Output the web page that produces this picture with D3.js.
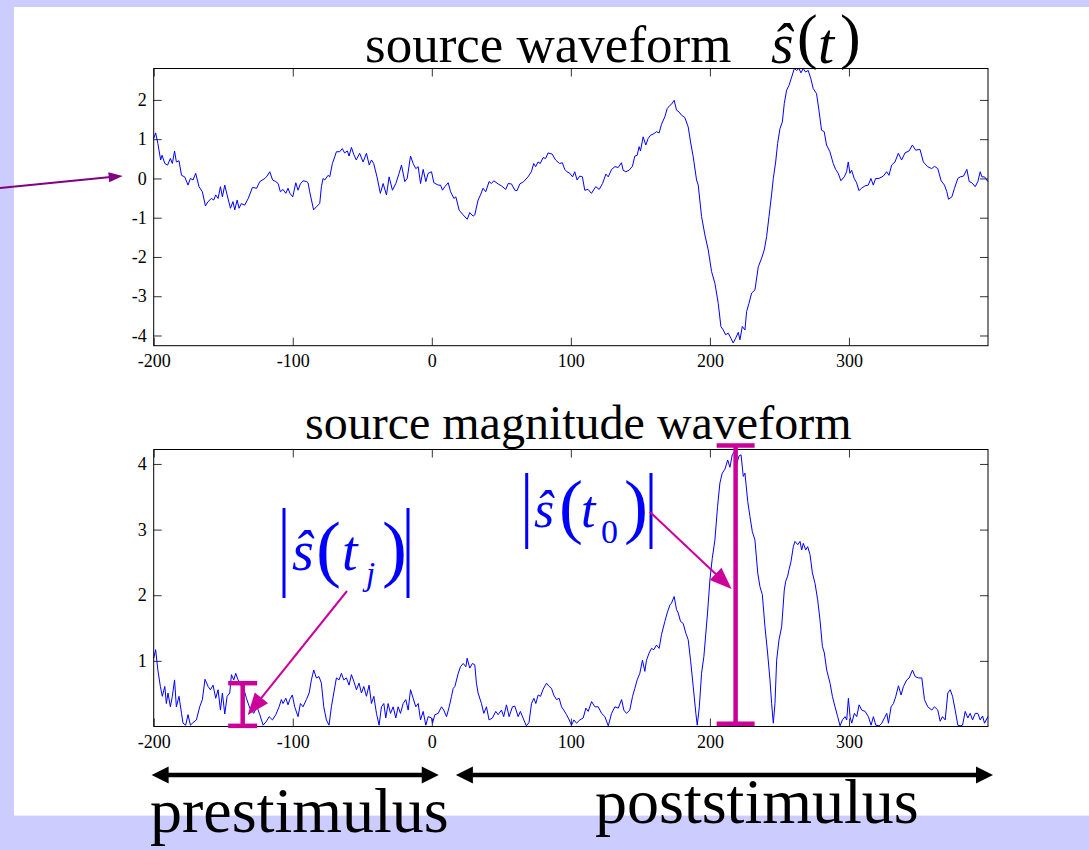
<!DOCTYPE html>
<html><head><meta charset="utf-8">
<script src="https://cdn.jsdelivr.net/npm/d3@7"></script>
<style>html,body{margin:0;padding:0;background:#CCCCFF;}svg{display:block}</style>
</head><body>
<svg id="c" width="1089" height="850"></svg>
<script>
// ---------------- data ----------------
const xTicks = [-200, -100, 0, 100, 200, 300];
const sourceYTicks = [-4, -3, -2, -1, 0, 1, 2];
const magYTicks = [1, 2, 3, 4];
const xDomain = [-200, 400];
const sourceYDomain = [-4.26, 2.80];
const magYDomain = [0, 4.22];

// source waveform s^(t): [time, value]
const sourceWave = [
[-200,1.02],[-198.6,1.16],[-197,0.89],[-195,0.47],[-194,0.59],[-192,0.38],[-190,0.34],[-188,0.51],[-186.6,0.38],[-185,0.70],
[-183.7,0.42],[-181.8,0.45],[-180,0.08],[-177.7,0.04],[-175.3,-0.17],[-173.6,0],[-171.7,-0.04],[-169.8,0.13],[-167.4,-0.21],[-165,-0.34],
[-162.8,-0.70],[-160.9,-0.59],[-158.5,-0.51],[-156.8,-0.55],[-155.4,-0.42],[-153.7,-0.51],[-152,-0.21],[-150.6,-0.47],[-148.9,-0.17],[-147.2,-0.42],
[-144.8,-0.76],[-143,-0.59],[-141.7,-0.80],[-140,-0.55],[-138.6,-0.76],[-137,-0.64],[-134.6,-0.68],[-132,-0.51],[-129,-0.23],[-126,-0.25],
[-123.7,-0.08],[-120,0],[-118.5,0.06],[-116.5,0.17],[-114.5,-0.04],[-112.2,-0.08],[-110.5,-0.13],[-108.9,-0.34],[-107,-0.28],[-105,-0.38],
[-103.4,-0.25],[-102,-0.38],[-100,-0.47],[-97.8,-0.11],[-96.2,-0.30],[-94.5,-0.14],[-92.6,-0.06],[-90,-0.08],[-89,-0.11],[-87.8,-0.34],
[-85,-0.80],[-83,-0.72],[-80.6,-0.64],[-79.4,-0.21],[-78.2,0],[-77,-0.04],[-74.6,0.08],[-73.4,0.04],[-71.5,0.38],[-69.8,0.55],
[-68.6,0.68],[-66.2,0.68],[-64.4,0.76],[-62.7,0.65],[-60.7,0.70],[-59.5,0.57],[-57.8,0.79],[-56.2,0.62],[-54.3,0.47],[-51.9,0.64],
[-49.4,0.42],[-47,0.64],[-45,0.34],[-43.4,0.47],[-41.8,0.38],[-39.4,0.04],[-37,-0.38],[-35,-0.13],[-32.6,-0.42],[-30.7,0.04],
[-28.3,-0.30],[-25.9,-0.13],[-23.5,0.13],[-21.8,0.34],[-19.4,-0.08],[-17.7,0],[-15.3,0.57],[-13.4,0.38],[-11.5,0.25],[-9.8,0.30],
[-8.1,-0.13],[-6.2,0.23],[-4.3,-0.08],[-2.6,0.13],[-0.2,0.17],[1.5,-0.11],[4.6,-0.17],[6.3,-0.17],[7.7,-0.30],[9.4,-0.21],
[11.8,-0.11],[13.5,-0.34],[15.9,-0.51],[17.3,-0.47],[19.7,-0.81],[22.6,-0.93],[25.5,-1.04],[27.3,-0.87],[29.7,-0.96],[30.9,-0.93],
[33.3,-0.55],[35,-0.42],[36.9,-0.25],[38.8,-0.34],[41.2,-0.08],[42.9,-0.13],[44.6,-0.06],[47.7,-0.14],[50.1,-0.19],[53.2,-0.28],
[54.9,-0.13],[57.3,-0.14],[59.7,-0.30],[61.3,-0.31],[63.3,-0.14],[66.1,-0.08],[69.2,0.04],[71.6,0.17],[73.3,0.38],[74.7,0.30],
[76.4,0.42],[78,0.38],[80,0.53],[81.9,0.51],[83.6,0.65],[86.6,0.62],[89,0.47],[91.9,0.38],[93.9,0.40],[95.6,0.23],
[97.2,0.17],[99.3,0.13],[101.2,0.04],[102.8,0.17],[104.5,-0.04],[106.4,0.06],[108.3,0.04],[110,-0.30],[112.4,-0.28],[114.8,-0.38],
[117.9,-0.21],[120.4,-0.28],[122.8,-0.13],[125.2,0.11],[126.9,0.04],[129.3,0.23],[131.7,0.30],[134.1,0.28],[136.4,0.40],[137.6,0.21],
[139.5,0.17],[141.9,0.21],[144.3,0.31],[146,0.57],[147.7,0.59],[149.1,0.81],[150.1,0.70],[152,1.06],[153.9,0.85],[155.6,1.02],
[157.3,1.10],[159.7,1.14],[161.6,1.19],[163.5,1.16],[165.2,1.38],[167.6,1.57],[169.3,1.78],[171.2,1.86],[172.4,1.89],[174.3,1.99],
[176,1.74],[177.9,1.69],[179.6,1.61],[182,1.55],[184.4,1.31],[186.1,0.93],[188,0.55],[190.4,-0.04],[191.6,-0.17],[194,-0.97],
[196.4,-1.44],[198.8,-1.82],[201.2,-2.37],[203.6,-2.67],[206,-3.18],[207.9,-3.77],[209.6,-3.86],[211.3,-3.98],[213.2,-3.94],[215.1,-4.07],
[216.8,-4.19],[218.5,-4.07],[220.4,-3.92],[221.6,-4.11],[223.3,-3.77],[225.2,-3.86],[226.4,-3.39],[228.1,-3.18],[230,-2.92],[232.4,-2.84],
[234.8,-2.25],[237.2,-2.03],[239.1,-1.82],[240.8,-1.48],[242.5,-0.97],[244.4,-0.40],[245.6,0.0],[247.3,0.42],[248.7,0.89],[250.4,1.27],
[252.1,1.44],[253.5,1.91],[255.2,2.25],[256.9,2.37],[258.8,2.58],[260.7,2.80],[262.4,2.75],[264,2.80],[265.5,2.69],[267.1,2.80],
[268.8,2.71],[270.7,2.75],[272.6,2.54],[274.3,2.29],[276.7,2.16],[278.4,1.74],[280.3,1.23],[282.2,1.19],[283.9,0.85],[286.3,0.68],
[288.7,0.38],[290.4,0.23],[292.3,0.13],[294.2,-0.06],[296.6,0.04],[298.3,0.17],[299.5,0.42],[300.7,0.13],[301.9,0.21],[303.8,0],
[305.5,-0.11],[307.2,-0.31],[309.1,-0.25],[311.5,-0.19],[313.9,-0.17],[315.8,0],[317.5,-0.17],[319.2,0],[321.6,0],[324.7,0.06],
[327.1,0.17],[328.8,0.08],[330.7,0.34],[333.1,0.42],[335.5,0.64],[337.9,0.47],[340.3,0.65],[343.2,0.70],[345.6,0.85],[348,0.72],
[351.1,0.74],[353.5,0.42],[356.6,0.30],[359.5,0.25],[361.5,0.31],[363.9,0.25],[366.3,-0.06],[368.7,-0.17],[370.4,-0.34],[371.6,-0.53],
[374,-0.47],[375.9,-0.25],[378.3,0],[380,0.04],[382.4,0.06],[384.8,0.23],[386.5,-0.08],[388.4,-0.11],[390.8,-0.21],[392.7,-0.08],
[394.4,0.17],[395.6,0.04],[397.5,0.04],[399.9,-0.08]
];

// source magnitude waveform |s^(t)|: [time, value]
const magnitudeWave = [
[-200,1.04],[-198.6,1.17],[-197,0.86],[-195.2,0.61],[-193.8,0.46],[-192,0.61],[-190.9,0.35],[-189.7,0.51],[-188,0.30],[-186.6,0.46],
[-185,0.71],[-183.7,0.30],[-181.8,0.46],[-180,0.20],[-178.9,0.05],[-177,0.02],[-175.3,0.18],[-173.6,0.02],[-171.7,0.06],[-169.3,0.10],
[-166.9,0.30],[-165,0.41],[-163.1,0.72],[-160.9,0.61],[-159.2,0.56],[-157.3,0.63],[-155.4,0.43],[-153.7,0.56],[-152,0.25],[-150.6,0.51],
[-148.9,0.19],[-147.2,0.46],[-145.3,0.51],[-144.1,0.79],[-142.4,0.71],[-141,0.81],[-139.3,0.71],[-137.6,0.63],[-135.7,0.61],[-133.3,0.43],
[-130.9,0.28],[-128.1,0.20],[-125.7,0.30],[-123.7,0.18],[-121.3,0.02],[-118.9,0.08],[-117,0.15],[-114.6,0.10],[-112.2,0.18],[-109.8,0.30],
[-108.2,0.41],[-107,0.35],[-105,0.43],[-103.4,0.33],[-102.2,0.41],[-100.3,0.48],[-98.6,0.30],[-96.2,0.15],[-94.5,0.35],[-92.6,0.30],
[-90.2,0.41],[-88.2,0.51],[-86.6,0.71],[-84.9,0.86],[-83,0.74],[-81.1,0.76],[-79.4,0.66],[-77.7,0.30],[-75.8,0.10],[-73.9,0.02],
[-72.2,0.30],[-70.5,0.51],[-68.6,0.74],[-66.7,0.71],[-65,0.81],[-63.3,0.71],[-61.4,0.74],[-59.5,0.63],[-57.8,0.79],[-56.1,0.69],
[-54.2,0.56],[-52.3,0.66],[-50.6,0.51],[-48.9,0.61],[-47,0.46],[-45.1,0.63],[-43.4,0.35],[-41.7,0.46],[-39.8,0.20],[-37.9,0.02],
[-36.2,0.30],[-34.5,0.35],[-33.1,0.13],[-31.4,0.35],[-29.7,0.20],[-27.8,0.30],[-25.9,0.13],[-24.2,0.30],[-22.5,0.20],[-20.6,0.35],
[-18.7,0.41],[-17,0.25],[-15.3,0.56],[-13.4,0.43],[-11.5,0.30],[-9.8,0.35],[-8.1,0.10],[-6.2,0.23],[-4.3,0.02],[-2.6,0.15],
[-0.2,0.13],[0.5,0.05],[2.2,0.18],[4.6,0.20],[7,0.30],[8.6,0.25],[10.6,0.15],[12.5,0.30],[14.2,0.46],[15.4,0.58],
[16.6,0.61],[19,0.81],[20.6,0.91],[22.6,0.96],[24.5,0.91],[25.4,1.04],[27.3,0.89],[29.2,0.96],[30.9,0.94],[32.1,0.66],
[33.3,0.51],[35.7,0.35],[37.4,0.20],[39.3,0.30],[41.2,0.10],[43.6,0.13],[46,0.23],[47.7,0.18],[50.1,0.25],[51.7,0.15],
[53.7,0.33],[55.6,0.15],[58,0.30],[59.7,0.31],[62.1,0.15],[63.7,0.23],[65.6,0.13],[68,0.01],[69.9,0.06],[71.7,0.35],
[73.4,0.43],[74.8,0.35],[76.5,0.48],[78.2,0.46],[80.1,0.57],[82.5,0.66],[84.4,0.61],[86.1,0.58],[87.7,0.48],[89.7,0.41],
[91.6,0.43],[93.3,0.30],[94.9,0.25],[96.9,0.18],[98.8,0.10],[100.5,0.02],[102.2,0.10],[104.1,0.05],[106.5,0.10],[108.9,0.13],
[110.8,0.28],[112.5,0.23],[114.9,0.38],[117.3,0.30],[119.7,0.30],[122.1,0.20],[124.5,0.15],[126.9,0.01],[129.3,0.20],[131.7,0.30],
[134.1,0.28],[136.5,0.41],[138.1,0.25],[140,0.20],[142.4,0.25],[144.4,0.46],[146,0.58],[147.7,0.71],[149.6,0.81],[151.5,1.01],
[153.2,0.84],[154.4,1.01],[156.3,1.12],[158,1.19],[159.7,1.17],[161.6,1.24],[163.5,1.19],[165.2,1.40],[167.6,1.60],[169.3,1.73],
[171.2,1.85],[172.4,1.88],[174.3,1.98],[176,1.78],[177.2,1.73],[178.9,1.60],[180.8,1.57],[182.7,1.42],[184.4,1.32],[186.1,1.01],
[188,0.61],[189.9,0.20],[190.9,0.02],[192.4,0.30],[194,0.81],[195.7,1.07],[198.3,1.73],[200,2.23],[201.7,2.56],[203.6,2.84],
[205.5,3.35],[207.2,3.71],[208.9,3.86],[210.8,3.92],[212.8,4.06],[214.4,3.95],[216.1,4.14],[217.6,4.19],[219.2,3.99],[220.9,4.12],
[222.4,4.14],[224,3.81],[225.2,3.86],[227.2,3.43],[228.8,3.20],[230.5,2.97],[232.4,2.84],[234.4,2.34],[236,2.13],[237.7,2.01],
[239.6,1.52],[241.5,1.12],[243.2,0.71],[244.4,0.35],[245.6,0.05],[246.8,0.35],[248,1.01],[249.7,1.32],[251.6,1.52],[253.5,2.08],
[254.5,2.21],[255.9,2.29],[256.9,2.39],[258.3,2.51],[260,2.74],[261.2,2.82],[263.2,2.77],[264.8,2.82],[266,2.69],[267.2,2.79],
[268.9,2.69],[270.3,2.74],[272,2.62],[273.7,2.34],[275.6,2.18],[277.5,1.93],[279.2,1.62],[280.9,1.22],[282.3,1.12],[284,0.86],
[286.4,0.66],[288.1,0.46],[290,0.30],[291.9,0.15],[293.6,0.01],[295.3,0.10],[297.2,0.15],[298.4,0.10],[299.6,0.43],[300.8,0.15],
[302,0.05],[303.9,0.20],[305.6,0.15],[307.3,0.33],[309.2,0.25],[311.6,0.23],[314,0.15],[315.9,0.02],[317.6,0.15],[319.3,0.02],
[321.7,0.01],[323.6,0.05],[325.5,0.13],[327.2,0.20],[328.4,0.05],[330.3,0.30],[332,0.35],[333.7,0.46],[335.6,0.62],[337.5,0.48],
[339.2,0.61],[341.6,0.71],[343.3,0.74],[345.7,0.86],[347.6,0.76],[350,0.74],[352.4,0.74],[354.3,0.41],[356.7,0.30],[359.6,0.25],
[361.5,0.30],[363.9,0.25],[365.6,0.08],[367.3,0.15],[369.2,0.10],[371.1,0.51],[372.8,0.56],[374.5,0.46],[376.4,0.25],[378.3,0.02],
[380,0.01],[381.7,0.02],[383.6,0.23],[385.5,0.13],[387.2,0.20],[388.9,0.10],[390.8,0.20],[392.7,0.20],[394.4,0.10],[396.1,0.16],
[397.5,0.05],[399.9,0.15]
];

// magnitude markers (I-bars) at t_j and t_0: time, low, high
const markerTimes = [-136, 218.5];
const markerLow = [0.01, 0.04];
const markerHigh = [0.66, 4.28];

// time ranges of the prestimulus / poststimulus arrows
const periodStarts = [-201.5, 17.3];
const periodEnds = [5, 403.6];
const periodLabels = ["prestimulus", "poststimulus"];

// ---------------- drawing ----------------
const svg = d3.select("#c");
const SERIF = "'Liberation Serif','Times New Roman',Times,serif";
const BLUE = "#0000FF", MAGENTA = "#CC0099", PURPLE = "#800080";

svg.append("rect").attr("x", 0).attr("y", 0).attr("width", 1089).attr("height", 850).attr("fill", "#CCCCFF");
svg.append("rect").attr("x", 14).attr("y", 7).attr("width", 1075).attr("height", 808.6).attr("fill", "#FFFFFF");

const L = 153.7, R = 988;
const x = d3.scaleLinear().domain(xDomain).range([L, R]);
const ySrc = d3.scaleLinear().domain(sourceYDomain).range([345.7, 68.5]);
const yMag = d3.scaleLinear().domain(magYDomain).range([726.5, 449.5]);

function panel(yScale, yTicks, data) {
  const top = yScale.range()[1], bot = yScale.range()[0];
  const g = svg.append("g");
  const fmt = d => d3.format("d")(d).replace("\u2212", "-");
  const gx = g.append("g").attr("transform", `translate(0,${bot})`)
    .call(d3.axisBottom(x).tickValues(xTicks).tickSize(-8).tickSizeOuter(0).tickPadding(9).tickFormat(fmt));
  const gxt = g.append("g").attr("transform", `translate(0,${top})`)
    .call(d3.axisTop(x).tickValues(xTicks).tickSize(-8).tickSizeOuter(0).tickFormat(""));
  const gy = g.append("g").attr("transform", `translate(${L},0)`)
    .call(d3.axisLeft(yScale).tickValues(yTicks).tickSize(-8).tickSizeOuter(0).tickPadding(7).tickFormat(fmt));
  const gyr = g.append("g").attr("transform", `translate(${R},0)`)
    .call(d3.axisRight(yScale).tickValues(yTicks).tickSize(-8).tickSizeOuter(0).tickFormat(""));
  [gx, gxt, gy, gyr].forEach(a => {
    a.select(".domain").remove();
    a.selectAll(".tick line").attr("stroke", "#333").attr("stroke-width", 1);
    a.selectAll("text").attr("font-family", SERIF).attr("font-size", 18).attr("fill", "#000");
  });
  g.append("path").datum(data)
    .attr("fill", "none").attr("stroke", BLUE).attr("stroke-width", 1)
    .attr("d", d3.line().x(d => x(d[0])).y(d => yScale(d[1])));
  g.append("rect").attr("x", L).attr("y", top).attr("width", R - L).attr("height", bot - top)
    .attr("fill", "none").attr("stroke", "#000").attr("stroke-width", 1);
}
panel(ySrc, sourceYTicks, sourceWave);
panel(yMag, magYTicks, magnitudeWave);

function arrow(x1, y1, x2, y2, color, w, hl, hw) {
  const dx = x2 - x1, dy = y2 - y1, len = Math.hypot(dx, dy), ux = dx / len, uy = dy / len;
  const bx = x2 - ux * hl, by = y2 - uy * hl;
  svg.append("line").attr("x1", x1).attr("y1", y1).attr("x2", bx + ux * 2).attr("y2", by + uy * 2)
    .attr("stroke", color).attr("stroke-width", w);
  svg.append("polygon").attr("fill", color)
    .attr("points", [[x2, y2], [bx - uy * hw / 2, by + ux * hw / 2], [bx + uy * hw / 2, by - ux * hw / 2]].map(p => p.join(",")).join(" "));
}
function doubleArrow(x1, x2, y, color, w, hl, hw) {
  svg.append("line").attr("x1", x1 + hl - 1).attr("x2", x2 - hl + 1).attr("y1", y).attr("y2", y)
    .attr("stroke", color).attr("stroke-width", w);
  svg.append("polygon").attr("fill", color).attr("points", `${x1},${y} ${x1 + hl},${y - hw / 2} ${x1 + hl},${y + hw / 2}`);
  svg.append("polygon").attr("fill", color).attr("points", `${x2},${y} ${x2 - hl},${y - hw / 2} ${x2 - hl},${y + hw / 2}`);
}

// titles
function txt(s, px, py, size, opts = {}) {
  const t = svg.append("text").attr("x", px).attr("y", py).attr("font-family", SERIF)
    .attr("font-size", size).attr("fill", opts.fill || "#000").text(s);
  if (opts.italic) t.attr("font-style", "italic");
  return t;
}
txt("source waveform", 365, 62, 53);
txt("\u015D", 771, 63, 58, {italic: true});
txt("(", 797, 57, 62);
txt("t", 818, 63, 58, {italic: true});
txt(")", 840, 57, 62);
txt("source magnitude waveform", 305, 439, 48);

// purple arrow pointing at zero level of upper panel
arrow(0, 188, x(-200) - 31, ySrc(0) - 2.5, PURPLE, 2, 14, 10);

// magnitude markers
markerTimes.forEach((t, i) => {
  const cx = x(t), half = i === 0 ? 14.5 : 19;
  const yl = yMag(markerLow[i]), yh = yMag(markerHigh[i]);
  svg.append("line").attr("x1", cx).attr("x2", cx).attr("y1", yl).attr("y2", yh).attr("stroke", MAGENTA).attr("stroke-width", 4.5);
  svg.append("line").attr("x1", cx - half).attr("x2", cx + half).attr("y1", yl).attr("y2", yl).attr("stroke", MAGENTA).attr("stroke-width", 4.5);
  svg.append("line").attr("x1", cx - half).attr("x2", cx + half).attr("y1", yh).attr("y2", yh).attr("stroke", MAGENTA).attr("stroke-width", 4.5);
});

// |s^(t_j)| label
function bar(px, y1, y2) {
  svg.append("line").attr("x1", px).attr("x2", px).attr("y1", y1).attr("y2", y2).attr("stroke", BLUE).attr("stroke-width", 3);
}
bar(284, 508, 598); bar(408, 508, 598);
txt("\u015D", 292, 570, 56, {italic: true, fill: BLUE});
txt("(", 316, 573, 75, {fill: BLUE});
txt("t", 342, 570, 56, {italic: true, fill: BLUE});
txt("j", 366, 585, 33, {italic: true, fill: BLUE});
txt(")", 382, 573, 75, {fill: BLUE});

// |s^(t_0)| label
bar(526.7, 473, 549); bar(651, 473, 549);
txt("\u015D", 534, 527, 52, {italic: true, fill: BLUE});
txt("(", 559, 530, 72, {fill: BLUE});
txt("t", 581, 527, 52, {italic: true, fill: BLUE});
txt("0", 601, 543, 34, {fill: BLUE});
txt(")", 624, 530, 72, {fill: BLUE});

// magenta pointer arrows
arrow(347, 591, x(markerTimes[0]) + 5, 715, MAGENTA, 2, 22, 17);
arrow(650, 512, x(markerTimes[1]) - 4, 589, MAGENTA, 2, 22, 17);

// prestimulus / poststimulus arrows
periodStarts.forEach((s, i) => doubleArrow(x(s), x(periodEnds[i]), 775, "#000", 4.5, 17, 17));
txt(periodLabels[0], 150, 832, 64);
txt(periodLabels[1], 595, 823, 64);
</script>
</body></html>
